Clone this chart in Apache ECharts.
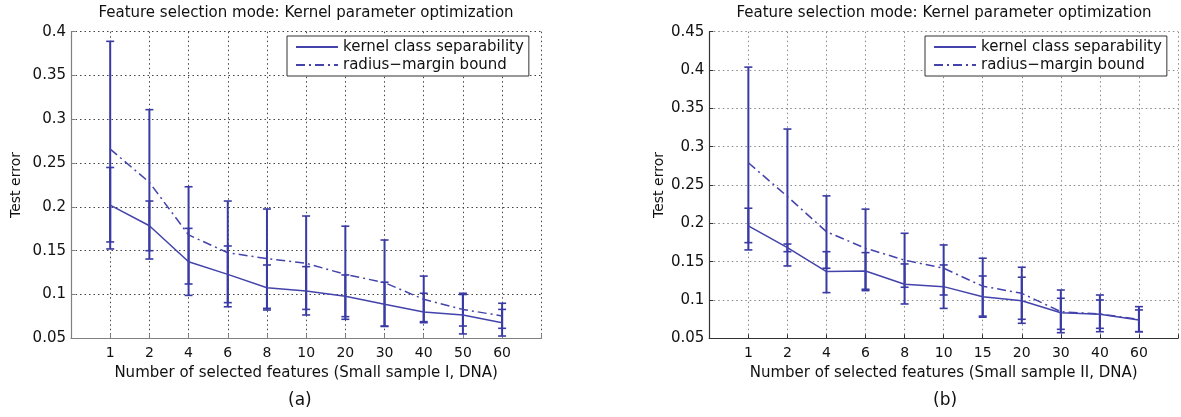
<!DOCTYPE html>
<html>
<head>
<meta charset="utf-8">
<script src="https://cdn.jsdelivr.net/npm/echarts@6/dist/echarts.min.js"></script>
<style>
html,body{margin:0;padding:0;background:#fff;}
#chart{width:1181px;height:417px;}
</style>
</head>
<body>
<div id="chart"></div>
<script>
// ---- data (a) ----
const catsA = ['1','2','4','6','8','10','20','30','40','50','60'];
const kernelA = [0.202, 0.1785, 0.1374, 0.123, 0.1078, 0.104, 0.098, 0.0888, 0.080, 0.0766, 0.0678];
const kernelLowA = [0.160, 0.150, 0.099, 0.0907, 0.0823, 0.0766, 0.0717, 0.0635, 0.069, 0.055, 0.0526];
const kernelHighA = [0.245, 0.2067, 0.1755, 0.1554, 0.1337, 0.1318, 0.1223, 0.114, 0.1014, 0.100, 0.083];
const radiusA = [0.266, 0.228, 0.168, 0.1477, 0.141, 0.1356, 0.123, 0.1135, 0.0945, 0.083, 0.0755];
const radiusLowA = [0.152, 0.1405, 0.112, 0.086, 0.0842, 0.083, 0.0747, 0.064, 0.0678, 0.064, 0.0614];
const radiusHighA = [0.389, 0.311, 0.223, 0.2067, 0.1976, 0.1896, 0.178, 0.1622, 0.121, 0.1014, 0.090];
const yTicksA = [0.05, 0.4, 0.05]; // min, max, step

// ---- data (b) ----
const catsB = ['1','2','4','6','8','10','15','20','30','40','60'];
const kernelB = [0.1966, 0.1683, 0.137, 0.1379, 0.1205, 0.1174, 0.1043, 0.099, 0.0834, 0.0813, 0.0739];
const kernelLowB = [0.1653, 0.163, 0.1096, 0.1122, 0.0948, 0.089, 0.0775, 0.0696, 0.0617, 0.063, 0.0586];
const kernelHighB = [0.2197, 0.173, 0.163, 0.1618, 0.147, 0.1457, 0.1313, 0.1297, 0.1022, 0.1, 0.087];
const radiusB = [0.279, 0.235, 0.189, 0.1675, 0.152, 0.1414, 0.118, 0.1087, 0.0847, 0.0817, 0.0748];
const radiusLowB = [0.1748, 0.1444, 0.1414, 0.114, 0.1166, 0.1065, 0.079, 0.0748, 0.0573, 0.0586, 0.0586];
const radiusHighB = [0.4038, 0.323, 0.2358, 0.2185, 0.187, 0.1718, 0.1545, 0.1427, 0.113, 0.1065, 0.0913];
const yTicksB = [0.05, 0.45, 0.05];

const titleText = 'Feature selection mode: Kernel parameter optimization';
const seriesNames = ['kernel class separability', 'radius\u2212margin bound'];
const xNameA = 'Number of selected features (Small sample I, DNA)';
const xNameB = 'Number of selected features (Small sample II, DNA)';
const yName = 'Test error';

// ---- styling ----
const FONT = 'DejaVu Sans';
const LINE = '#4343ab';
const BAR = '#3a3aa4';
const DASH = [9, 4, 2, 4];
const DOT = [1.5, 3];

const chart = echarts.init(document.getElementById('chart'));

function pts(vals) { return vals.map((v, i) => [i + 1, v]); }
function errData(lo, hi) { return lo.map((l, i) => [i + 1, l, hi[i]]); }

function errRender(params, api) {
  const x = api.value(0);
  const lo = api.coord([x, api.value(1)]);
  const hi = api.coord([x, api.value(2)]);
  const w = 4;
  const st = { stroke: BAR, lineWidth: 1.6 };
  return {
    type: 'group',
    children: [
      { type: 'line', shape: { x1: lo[0], y1: lo[1], x2: hi[0], y2: hi[1] }, style: { stroke: BAR, lineWidth: 2 } },
      { type: 'line', shape: { x1: lo[0] - w, y1: lo[1], x2: lo[0] + w, y2: lo[1] }, style: st },
      { type: 'line', shape: { x1: hi[0] - w, y1: hi[1], x2: hi[0] + w, y2: hi[1] }, style: st }
    ]
  };
}

function xAxisFor(idx, cats, name, gridColor, axisColor) {
  return {
    gridIndex: idx, type: 'value', min: 0, max: cats.length + 1, interval: 1,
    name: name, nameLocation: 'middle', nameGap: 22,
    nameTextStyle: { fontFamily: FONT, fontSize: 15, color: '#111' },
    axisLine: { show: true, lineStyle: { color: axisColor, width: 1.2 } },
    axisTick: { show: true, inside: true, length: 4, lineStyle: { color: axisColor } },
    axisLabel: { fontFamily: FONT, fontSize: 14, color: '#111', margin: 8,
      formatter: v => cats[v - 1] || '' },
    splitLine: { show: true, lineStyle: { type: DOT, color: gridColor, width: 1 } }
  };
}
function yAxisFor(idx, t, gap, gridColor, axisColor) {
  return {
    gridIndex: idx, type: 'value', min: t[0], max: t[1], interval: t[2],
    name: yName, nameLocation: 'middle', nameGap: gap, nameRotate: 90,
    nameTextStyle: { fontFamily: FONT, fontSize: 14, color: '#111' },
    axisLine: { show: true, lineStyle: { color: axisColor, width: 1.2 } },
    axisTick: { show: true, inside: true, length: 4, lineStyle: { color: axisColor } },
    axisLabel: { fontFamily: FONT, fontSize: 15, color: '#111', margin: 5,
      formatter: v => String(Math.round(v * 100) / 100) },
    splitLine: { show: true, lineStyle: { type: DOT, color: gridColor, width: 1 } }
  };
}

function lineSeries(idx, name, vals, dashed) {
  return {
    type: 'line', name: name, xAxisIndex: idx, yAxisIndex: idx,
    data: pts(vals), symbol: 'none', showSymbol: false, z: 3,
    lineStyle: { color: LINE, width: 1.5, type: dashed ? DASH : 'solid' },
    itemStyle: { color: LINE }
  };
}
function errSeries(idx, name, lo, hi) {
  return {
    type: 'custom', name: name, xAxisIndex: idx, yAxisIndex: idx,
    data: errData(lo, hi), renderItem: errRender, z: 2,
    encode: { x: 0, y: [1, 2] }, silent: true
  };
}

function legendFor(left) {
  return {
    show: true, orient: 'vertical', left: left, top: 36,
    data: seriesNames.map(n => ({ name: n })),
    itemWidth: 42, itemHeight: 10, itemGap: 2,
    padding: [3, 5, 3, 8],
    borderColor: '#333', borderWidth: 1, backgroundColor: '#fff',
    itemStyle: { opacity: 0, borderWidth: 0 },
    textStyle: { fontFamily: FONT, fontSize: 15, color: '#111', lineHeight: 16 },
    selectedMode: false
  };
}

const option = {
  animation: false,
  backgroundColor: '#fff',
  title: [
    { text: titleText, left: 306, top: 6, textAlign: 'center', padding: 0,
      textStyle: { fontFamily: FONT, fontSize: 15, fontWeight: 'normal', color: '#111' } },
    { text: titleText, left: 944, top: 6, textAlign: 'center', padding: 0,
      textStyle: { fontFamily: FONT, fontSize: 15, fontWeight: 'normal', color: '#111' } }
  ],
  legend: [legendFor(287), legendFor(925)],
  grid: [
    { left: 71, top: 31.7, right: 1181 - 541.3, bottom: 417 - 338.3 },
    { left: 709.3, top: 31.7, right: 1.5, bottom: 417 - 338.3 }
  ],
  xAxis: [
    xAxisFor(0, catsA, xNameA, '#444', '#808080'),
    xAxisFor(1, catsB, xNameB, '#888', '#333')
  ],
  yAxis: [
    yAxisFor(0, yTicksA, 48, '#444', '#808080'),
    yAxisFor(1, yTicksB, 43, '#888', '#333')
  ],
  series: [
    errSeries(0, 'errKA', kernelLowA, kernelHighA),
    errSeries(0, 'errRA', radiusLowA, radiusHighA),
    lineSeries(0, seriesNames[0], kernelA, false),
    lineSeries(0, seriesNames[1], radiusA, true),
    errSeries(1, 'errKB', kernelLowB, kernelHighB),
    errSeries(1, 'errRB', radiusLowB, radiusHighB),
    lineSeries(1, seriesNames[0], kernelB, false),
    lineSeries(1, seriesNames[1], radiusB, true)
  ],
  graphic: [
    { type: 'text', left: 288, top: 392, style: { text: '(a)', fontFamily: FONT, fontSize: 17, fill: '#111' } },
    { type: 'text', left: 933, top: 392, style: { text: '(b)', fontFamily: FONT, fontSize: 17, fill: '#111' } }
  ]
};
chart.setOption(option);
</script>
</body>
</html>
